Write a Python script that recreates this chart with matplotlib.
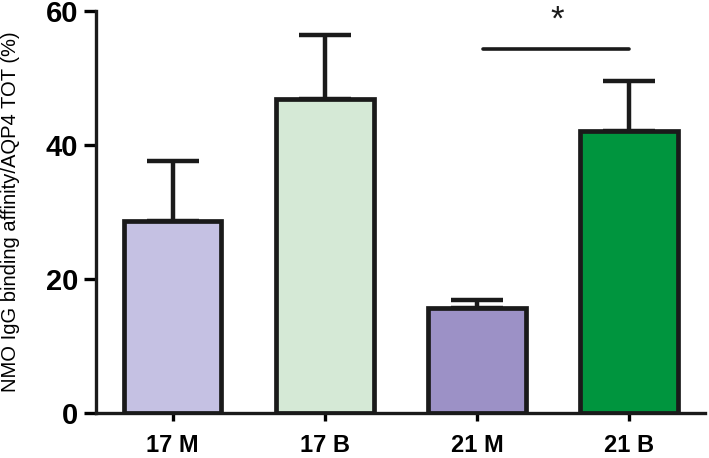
import matplotlib
matplotlib.use("Agg")
import matplotlib.pyplot as plt

categories = ["17 M", "17 B", "21 M", "21 B"]
means = [28.6, 46.9, 15.6, 42.1]
errors = [9.0, 9.5, 1.3, 7.5]
colors = ["#c5c1e3", "#d5e9d6", "#9c91c6", "#00953e"]
yticks = [0, 20, 40, 60]
sig_pair = (2, 3)
sig_y = 54.3
sig_label = "*"

plt.rcParams['font.family'] = ['Liberation Sans', 'DejaVu Sans']

fig = plt.figure(figsize=(7.09, 4.58), dpi=100)
ax = fig.add_axes([96/709, 1 - 413/458, (705-96)/709, (413-11)/458])

x = list(range(len(categories)))
ax.bar(x, means, width=0.64, color=colors, edgecolor="#1a1a1a", linewidth=3.4, zorder=2)
ax.errorbar(x, means, yerr=[[0]*len(errors), errors], fmt="none", ecolor="#1a1a1a",
            elinewidth=3.2, capsize=19, capthick=3.2, zorder=1)

ax.plot([sig_pair[0] + 0.04, sig_pair[1]], [sig_y, sig_y], color="#1a1a1a", lw=2.6,
        solid_capstyle="round", clip_on=False)
ax.text((sig_pair[0] + sig_pair[1]) / 2 + 0.03, 57.2, sig_label, ha="center", va="baseline",
        fontsize=25, color="#1a1a1a", clip_on=False)

ax.set_xlim(-0.505, 3.5)
ax.set_ylim(0, 60)
ax.set_yticks(yticks)
ax.set_yticklabels([str(v) for v in yticks], fontsize=21, fontweight="bold")
ax.set_xticks(x)
ax.set_xticklabels(categories, fontsize=17, fontweight="bold")
ax.tick_params(axis="y", length=9, width=2.4, pad=4)
ax.tick_params(axis="x", length=6, width=2.4, pad=9)

for s in ["top", "right"]:
    ax.spines[s].set_visible(False)
for s in ["left", "bottom"]:
    ax.spines[s].set_linewidth(2.4)
    ax.spines[s].set_color("#1a1a1a")

ax.set_ylabel("NMO IgG binding affinity/AQP4 TOT (%)", fontsize=14.5)
ax.yaxis.set_label_coords(-76/609, 0.5)

fig.savefig("out.png", dpi=100)
